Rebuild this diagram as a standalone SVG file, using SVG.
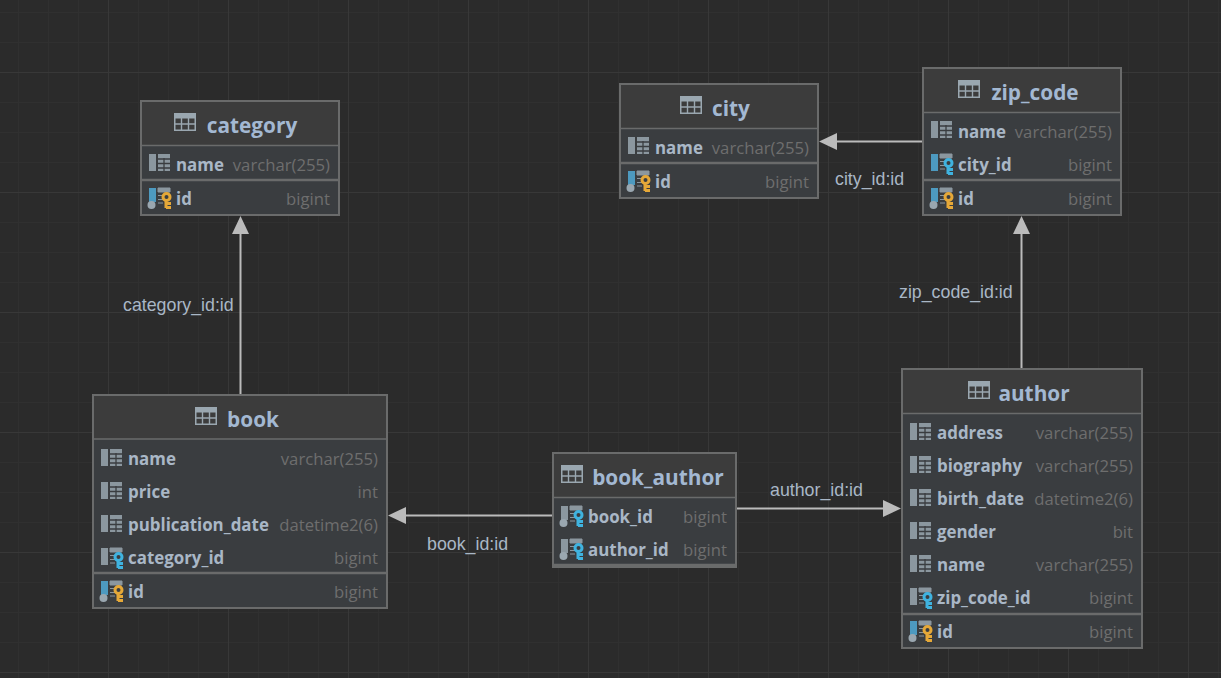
<svg xmlns="http://www.w3.org/2000/svg" width="1221" height="678" viewBox="0 0 1221 678">
<style>
.box{fill:#3a3d40;stroke:#6a6b6b;stroke-width:2}
.head{fill:#3c3c3c}
.sep{stroke:#6a6b6b;stroke-width:1.5}
.sep2{stroke:#6a6b6b;stroke-width:2.5}
.title{font:700 20.8px "Open Sans","Noto Sans",sans-serif;fill:#a3b8d2;text-anchor:middle}
.col{font:700 16.9px "Open Sans","Noto Sans",sans-serif;fill:#a9b7c6}
.type{font:400 16.7px "Open Sans","Noto Sans",sans-serif;fill:#6e6e6e;text-anchor:end}
.lbl{font:400 17.8px "Liberation Sans",Arial,sans-serif;fill:#a9b7c6}
.conn{stroke:#bbbbbb;stroke-width:2;fill:none}
.arrow{fill:#bbbbbb}
</style>
<defs>
<pattern id="minor" width="30" height="30" patternUnits="userSpaceOnUse" x="18" y="12"><path d="M0.5 0V30M0 0.5H30" fill="none" stroke="#303030"/></pattern>
<pattern id="major" width="120" height="120" patternUnits="userSpaceOnUse" x="108" y="72"><path d="M0.5 0V120M0 0.5H120" fill="none" stroke="#383838"/></pattern>
<g id="tbl"><rect x="0" y="0" width="22" height="18" fill="#9aa7b0"/><path d="M1.500 5.500H20.500V16.500H1.500Z" fill="#3c3c3c"/><path d="M7.500 5V17M14.500 5V17M1 11H21" stroke="#9aa7b0" stroke-width="1.400"/></g>
<g id="colI"><rect x="0" y="0" width="7" height="17" fill="#8b979f"/><rect x="9" y="0" width="12" height="17" fill="#8b979f"/><path d="M9 5H21M9 9.500H21M9 14H21M15 4V17" stroke="#3a3d40" stroke-width="1.300"/></g>
<g id="fk"><rect x="0" y="0" width="7" height="17" fill="#8b979f"/><path d="M9 0H21V4H9ZM9 7.500H14M9 11.500H14M9 15H14" fill="#8b979f" stroke="#8b979f"/><circle cx="17.500" cy="9" r="3.500" fill="none" stroke="#3fb3e0" stroke-width="3"/><path d="M17 12V20M17 15.500H22M17 19.500H22" stroke="#3fb3e0" stroke-width="3"/></g>
<g id="fkb"><rect x="0" y="0" width="7" height="17" fill="#4d9ac0"/><path d="M9 0H21V4H9ZM9 7.500H14M9 11.500H14M9 15H14" fill="#8b979f" stroke="#8b979f"/><circle cx="17.500" cy="9" r="3.500" fill="none" stroke="#3fb3e0" stroke-width="3"/><path d="M17 12V20M17 15.500H22M17 19.500H22" stroke="#3fb3e0" stroke-width="3"/></g>
<g id="pk"><rect x="1" y="0" width="7" height="14" fill="#4d9ac0"/><circle cx="3.500" cy="17" r="4" fill="#9aa7b0"/><path d="M10 0H22V4H10ZM10 7.500H15M10 11.500H15M10 15H15" fill="#8b979f" stroke="#8b979f"/><circle cx="18.500" cy="9" r="3.500" fill="none" stroke="#e5a838" stroke-width="3"/><path d="M18 12V20M18 15.500H23M18 19.500H23" stroke="#e5a838" stroke-width="3"/></g>
<g id="fkd"><rect x="1" y="0" width="7" height="14" fill="#8b979f"/><circle cx="3.500" cy="17" r="4" fill="#9aa7b0"/><path d="M10 0H22V4H10ZM10 7.500H15M10 11.500H15M10 15H15" fill="#8b979f" stroke="#8b979f"/><circle cx="18.500" cy="9" r="3.500" fill="none" stroke="#3fb3e0" stroke-width="3"/><path d="M18 12V20M18 15.500H23M18 19.500H23" stroke="#3fb3e0" stroke-width="3"/></g>
</defs>
<rect width="1221" height="678" fill="#2b2b2b"/>
<rect width="1221" height="678" fill="url(#minor)"/>
<rect width="1221" height="678" fill="url(#major)"/>

<g id="connectors">
<path class="conn" d="M240.500 394V232"/><path class="arrow" d="M240.500 216L232 234H249Z"/>
<path class="conn" d="M1021.500 369V232"/><path class="arrow" d="M1021.500 216L1013 234H1030Z"/>
<path class="conn" d="M922 141.500H836"/><path class="arrow" d="M819 141.500L837 133V150Z"/>
<path class="conn" d="M553 515.500H404"/><path class="arrow" d="M388 515.500L406 507V524Z"/>
<path class="conn" d="M737 508.500H884"/><path class="arrow" d="M901 508.500L883 500V517Z"/>
<text class="lbl" x="123" y="311">category_id:id</text>
<text class="lbl" x="899" y="298">zip_code_id:id</text>
<text class="lbl" x="835" y="185">city_id:id</text>
<text class="lbl" x="427" y="550">book_id:id</text>
<text class="lbl" x="770" y="496">author_id:id</text>
</g>

<g id="category">
<rect class="box" x="141" y="101" width="198" height="114"/>
<rect class="head" x="142" y="102" width="196" height="43"/>
<path class="sep" d="M142 145.500H338"/><path class="sep2" d="M142 180H338"/>
<use href="#tbl" x="174" y="113"/><text class="title" x="252" y="133">category</text>
<use href="#colI" x="149" y="154"/><text class="col" x="176" y="171">name</text><text class="type" x="330" y="171">varchar(255)</text>
<use href="#pk" x="148" y="188"/><text class="col" x="176" y="205">id</text><text class="type" x="330" y="205">bigint</text>
</g>

<g id="city">
<rect class="box" x="620" y="84" width="198" height="114"/>
<rect class="head" x="621" y="85" width="196" height="43"/>
<path class="sep" d="M621 128.500H817"/><path class="sep2" d="M621 163H817"/>
<use href="#tbl" x="680" y="96"/><text class="title" x="731" y="116">city</text>
<use href="#colI" x="628" y="137"/><text class="col" x="655" y="154">name</text><text class="type" x="809" y="154">varchar(255)</text>
<use href="#pk" x="627" y="171"/><text class="col" x="655" y="188">id</text><text class="type" x="809" y="188">bigint</text>
</g>

<g id="zip_code">
<rect class="box" x="923" y="68" width="198" height="147"/>
<rect class="head" x="924" y="69" width="196" height="43"/>
<path class="sep" d="M924 112.500H1120"/><path class="sep2" d="M924 180H1120"/>
<use href="#tbl" x="958" y="80"/><text class="title" x="1035" y="100">zip_code</text>
<use href="#colI" x="931" y="121"/><text class="col" x="958" y="138">name</text><text class="type" x="1112" y="138">varchar(255)</text>
<use href="#fkb" x="931" y="154"/><text class="col" x="958" y="171">city_id</text><text class="type" x="1112" y="171">bigint</text>
<use href="#pk" x="930" y="188"/><text class="col" x="958" y="205">id</text><text class="type" x="1112" y="205">bigint</text>
</g>

<g id="book">
<rect class="box" x="93" y="395" width="294" height="213"/>
<rect class="head" x="94" y="396" width="292" height="43"/>
<path class="sep" d="M94 439H386"/><path class="sep2" d="M94 573H386"/>
<use href="#tbl" x="195" y="407"/><text class="title" x="253" y="427">book</text>
<use href="#colI" x="101" y="449"/><text class="col" x="128" y="465">name</text><text class="type" x="378" y="465">varchar(255)</text>
<use href="#colI" x="101" y="482"/><text class="col" x="128" y="498">price</text><text class="type" x="378" y="498">int</text>
<use href="#colI" x="101" y="515"/><text class="col" x="128" y="531">publication_date</text><text class="type" x="378" y="531">datetime2(6)</text>
<use href="#fk" x="101" y="548"/><text class="col" x="128" y="564">category_id</text><text class="type" x="378" y="564">bigint</text>
<use href="#pk" x="100" y="581"/><text class="col" x="128" y="598">id</text><text class="type" x="378" y="598">bigint</text>
</g>

<g id="book_author">
<rect class="box" x="553" y="453" width="183" height="114"/>
<rect class="head" x="554" y="454" width="181" height="43"/>
<path class="sep" d="M554 497.500H735"/><path class="sep2" d="M554 565H735"/>
<use href="#tbl" x="561" y="465"/><text class="title" x="658" y="485">book_author</text>
<use href="#fkd" x="560" y="506"/><text class="col" x="588" y="523">book_id</text><text class="type" x="727" y="523">bigint</text>
<use href="#fkd" x="560" y="539"/><text class="col" x="588" y="556">author_id</text><text class="type" x="727" y="556">bigint</text>
</g>

<g id="author">
<rect class="box" x="902" y="369" width="240" height="279"/>
<rect class="head" x="903" y="370" width="238" height="43"/>
<path class="sep" d="M903 413.500H1141"/><path class="sep2" d="M903 614H1141"/>
<use href="#tbl" x="968" y="381"/><text class="title" x="1034" y="401">author</text>
<use href="#colI" x="910" y="423"/><text class="col" x="937" y="439">address</text><text class="type" x="1133" y="439">varchar(255)</text>
<use href="#colI" x="910" y="456"/><text class="col" x="937" y="472">biography</text><text class="type" x="1133" y="472">varchar(255)</text>
<use href="#colI" x="910" y="489"/><text class="col" x="937" y="505">birth_date</text><text class="type" x="1133" y="505">datetime2(6)</text>
<use href="#colI" x="910" y="522"/><text class="col" x="937" y="538">gender</text><text class="type" x="1133" y="538">bit</text>
<use href="#colI" x="910" y="555"/><text class="col" x="937" y="571">name</text><text class="type" x="1133" y="571">varchar(255)</text>
<use href="#fk" x="910" y="588"/><text class="col" x="937" y="604">zip_code_id</text><text class="type" x="1133" y="604">bigint</text>
<use href="#pk" x="909" y="621"/><text class="col" x="937" y="638">id</text><text class="type" x="1133" y="638">bigint</text>
</g>
</svg>
